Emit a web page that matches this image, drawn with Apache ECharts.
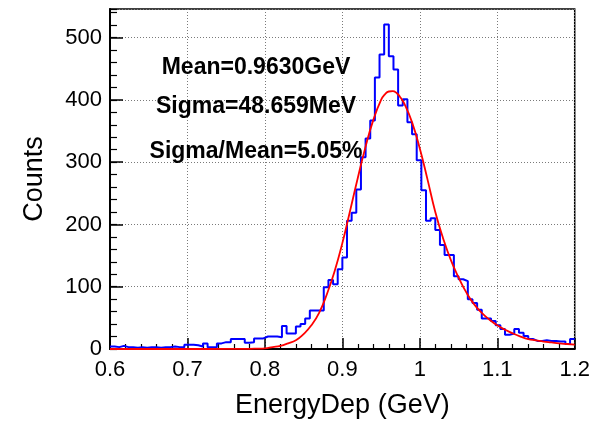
<!DOCTYPE html>
<html>
<head>
<meta charset="utf-8">
<script src="https://cdn.jsdelivr.net/npm/echarts@6/dist/echarts.min.js"></script>
<style>
  html, body { margin: 0; padding: 0; background: #fff; }
  #main { width: 593px; height: 424px; }
</style>
</head>
<body>
<div id="main"></div>
<script>
// histogram: 100 bins of 0.006 GeV from 0.6 to 1.2
var binLo = 0.6;
var binWidth = 0.006;
var counts = [
    4, 3, 5, 3, 3, 2, 3, 2, 3, 3, 2, 3, 3, 4, 3, 3,
    7, 7, 6, 4, 9, 3, 3, 9, 11, 11, 16, 16, 16, 10,
    11, 17, 17, 20, 20, 20, 19, 37, 25, 25, 36, 40, 49,
    62, 62, 62, 99, 111, 104, 128, 147, 206, 219, 256,
    308, 338, 367, 436, 473, 521, 470, 449, 391, 401, 364, 345, 303,
    255, 206, 210, 191, 167, 151, 151, 117, 112, 109, 80, 74, 63, 49,
    49, 45, 38, 32, 23, 25, 32, 26, 21, 16, 13, 13, 14, 13, 13, 12,
    12, 8, 16
];

// fitted curve, every 0.01 GeV
var fitX = [0.60, 0.70, 0.75, 0.78, 0.79, 0.80, 0.81, 0.82, 0.83, 0.84, 0.85, 0.86, 0.87, 0.88, 0.89,
    0.90, 0.91, 0.92, 0.93, 0.94, 0.95, 0.955, 0.96, 0.965, 0.97, 0.975, 0.98, 0.99,
    1.00, 1.01, 1.02, 1.03, 1.04, 1.05, 1.06, 1.07, 1.08, 1.09,
    1.10, 1.11, 1.12, 1.13, 1.14, 1.15, 1.16, 1.17, 1.18, 1.19, 1.20];
var fitY = [0, 0, 0.1, 0.3, 0.6, 1, 3, 5, 9, 14, 24, 38, 58, 88, 125,
    170, 222, 275, 325, 368, 400, 409, 413.5, 414, 411, 404, 394, 364,
    322, 272, 220, 178, 143, 115, 91, 72, 58, 47,
    38, 31, 25, 20, 16, 14, 12, 10.5, 9, 8, 7];

var statLines = ["Mean=0.9630GeV", "Sigma=48.659MeV", "Sigma/Mean=5.05%"];
var statY = [68, 107, 152];

var font = "'Liberation Sans', Arial, Helvetica, sans-serif";

var histData = [];
for (var i = 0; i < counts.length; i++) {
    histData.push([+(binLo + i * binWidth).toFixed(3), counts[i]]);
}
histData.push([+(binLo + counts.length * binWidth).toFixed(3), counts[counts.length - 1]]);

var fitData = fitX.map(function(x, k) { return [x, fitY[k]]; });

var myChart = echarts.init(document.getElementById('main'));

var gridLine = { show: true, lineStyle: { color: '#7a7a7a', width: 1, type: [1, 2] } };

var option = {
    animation: false,
    grid: {
        left: 110, right: 18, top: 9, bottom: 72,
        show: true, borderColor: '#000', borderWidth: 1.5
    },
    xAxis: [{
        type: 'value',
        min: 0.6, max: 1.2, interval: 0.1,
        axisLine: { show: true, onZero: false, lineStyle: { color: '#000', width: 2 } },
        axisTick: { show: true, inside: true, length: 11, lineStyle: { color: '#000', width: 1.5 } },
        minorTick: { show: true, splitNumber: 5, length: 5, lineStyle: { color: '#000', width: 1.2 } },
        axisLabel: { color: '#000', fontFamily: font, fontSize: 22, margin: 10 },
        splitLine: gridLine,
        name: 'EnergyDep (GeV)',
        nameLocation: 'middle',
        nameGap: 43,
        nameTextStyle: { color: '#000', fontFamily: font, fontSize: 27 }
    }],
    yAxis: [{
        type: 'value',
        min: 0, max: 546, interval: 100,
        axisLine: { show: true, lineStyle: { color: '#000', width: 2 } },
        axisTick: { show: true, inside: true, length: 13, lineStyle: { color: '#000', width: 1.5 } },
        axisLabel: { color: '#000', fontFamily: font, fontSize: 22, margin: 8, showMaxLabel: false },
        splitLine: gridLine,
        name: 'Counts',
        nameLocation: 'middle',
        nameRotate: 90,
        nameGap: 62,
        nameTextStyle: { color: '#000', fontFamily: font, fontSize: 27 }
    }, {
        // minor ticks every 20 counts
        type: 'value',
        position: 'left',
        min: 0, max: 546, interval: 20,
        axisLine: { show: false },
        axisTick: { show: true, inside: true, length: 7, lineStyle: { color: '#000', width: 1.2 } },
        axisLabel: { show: false },
        splitLine: { show: false }
    }],
    graphic: statLines.map(function(t, k) {
        return {
            type: 'text',
            x: 256, y: statY[k],
            style: {
                text: t,
                align: 'center', verticalAlign: 'middle',
                textAlign: 'center', textVerticalAlign: 'middle',
                fill: '#000', font: 'bold 23px ' + font
            },
            z: 10
        };
    }),
    series: [{
        type: 'line',
        step: 'end',
        data: histData,
        symbol: 'none',
        lineStyle: { color: '#0000ff', width: 2 },
        z: 3
    }, {
        type: 'line',
        data: fitData,
        smooth: 0.5,
        symbol: 'none',
        lineStyle: { color: '#ff0000', width: 1.8 },
        z: 4
    }]
};

myChart.setOption(option);
</script>
</body>
</html>
